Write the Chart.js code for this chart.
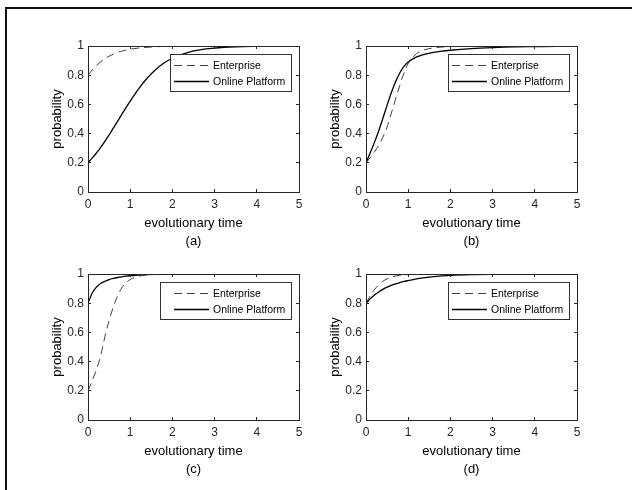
<html>

<head>
  <title>evolutionary time - probability</title>
  <style>
    html, body { margin: 0; padding: 0; background: #fff; overflow: hidden; }
    #frame {
      position: absolute; left: 5px; top: 7px; width: 640px; height: 500px;
      border-top: 2px solid #111; border-left: 2px solid #111;
    }
    canvas { position: absolute; }
  </style>
</head>

<body>
<div id="frame"></div>
<canvas id="chartA" width="310" height="250" style="left:0px;top:0px;"></canvas>
<canvas id="chartB" width="310" height="250" style="left:278px;top:0px;"></canvas>
<canvas id="chartC" width="310" height="250" style="left:0px;top:228px;"></canvas>
<canvas id="chartD" width="310" height="250" style="left:278px;top:228px;"></canvas>
<script src="https://cdn.jsdelivr.net/npm/chart.js"></script>
<script>
  // sample times shared by every panel
  const times = [0, 0.1, 0.2, 0.3, 0.4, 0.5, 0.6, 0.7, 0.8, 0.9, 1.0, 1.2, 1.4, 1.6, 1.8, 2.0, 2.5, 3.0, 3.5, 4.0, 4.5, 5.0];

  const enterpriseA = [0.800, 0.836, 0.866, 0.892, 0.913, 0.930, 0.944, 0.955, 0.965, 0.972, 0.978, 0.986, 0.991, 0.995, 0.997, 0.998, 0.999, 1.000, 1.000, 1.000, 1.000, 1.000];
  const platformA   = [0.200, 0.232, 0.267, 0.306, 0.347, 0.391, 0.437, 0.484, 0.531, 0.578, 0.623, 0.707, 0.779, 0.837, 0.883, 0.916, 0.966, 0.986, 0.995, 0.998, 0.999, 1.000];

  const enterpriseB = [0.200, 0.235, 0.275, 0.320, 0.375, 0.445, 0.540, 0.635, 0.730, 0.815, 0.880, 0.948, 0.975, 0.987, 0.993, 0.996, 0.999, 1.000, 1.000, 1.000, 1.000, 1.000];
  const platformB   = [0.200, 0.268, 0.340, 0.418, 0.505, 0.595, 0.680, 0.755, 0.815, 0.860, 0.890, 0.925, 0.945, 0.957, 0.965, 0.971, 0.982, 0.989, 0.994, 0.996, 0.998, 0.999];

  const enterpriseC = [0.200, 0.270, 0.345, 0.440, 0.570, 0.680, 0.775, 0.850, 0.905, 0.940, 0.962, 0.985, 0.994, 0.998, 0.999, 1.000, 1.000, 1.000, 1.000, 1.000, 1.000, 1.000];
  const platformC   = [0.800, 0.870, 0.910, 0.935, 0.950, 0.962, 0.970, 0.976, 0.981, 0.985, 0.988, 0.993, 0.996, 0.998, 0.999, 0.999, 1.000, 1.000, 1.000, 1.000, 1.000, 1.000];

  const enterpriseD = [0.800, 0.850, 0.893, 0.925, 0.950, 0.967, 0.978, 0.986, 0.991, 0.994, 0.996, 0.998, 0.999, 1.000, 1.000, 1.000, 1.000, 1.000, 1.000, 1.000, 1.000, 1.000];
  const platformD   = [0.800, 0.830, 0.856, 0.877, 0.895, 0.910, 0.922, 0.932, 0.941, 0.949, 0.955, 0.966, 0.975, 0.982, 0.987, 0.991, 0.996, 0.998, 0.999, 1.000, 1.000, 1.000];

  const seriesNames = ['Enterprise', 'Online Platform'];
  const xTicks = [0, 1, 2, 3, 4, 5];
  const yTicks = [0, 0.2, 0.4, 0.6, 0.8, 1];

  const FONT = "'Liberation Sans', Arial, sans-serif";
  const AXIS_COLOR = '#262626';

  const crisp = v => Math.round(v - 0.5) + 0.5;

  // box on all four sides, ticks pointing inward, legend box in the upper right
  const matlabAxes = {
    id: 'matlabAxes',
    afterDatasetsDraw(chart, args, opts) {
      const { ctx, chartArea: { left, top, right, bottom }, scales: { x, y } } = chart;
      const tick = 3;
      ctx.save();
      ctx.strokeStyle = AXIS_COLOR;
      ctx.lineWidth = 1;
      ctx.setLineDash([]);
      ctx.beginPath();
      ctx.moveTo(crisp(left), crisp(top));
      ctx.lineTo(crisp(right), crisp(top));
      ctx.lineTo(crisp(right), crisp(bottom));
      x.ticks.forEach(t => {
        const px = crisp(x.getPixelForValue(t.value));
        ctx.moveTo(px, bottom); ctx.lineTo(px, bottom - tick);
        ctx.moveTo(px, top); ctx.lineTo(px, top + tick);
      });
      y.ticks.forEach(t => {
        const py = crisp(y.getPixelForValue(t.value));
        ctx.moveTo(left, py); ctx.lineTo(left + tick, py);
        ctx.moveTo(right, py); ctx.lineTo(right - tick, py);
      });
      ctx.stroke();

      // legend
      const bx1 = right - 8, bx0 = bx1 - opts.boxWidth;
      const by0 = top + 8, by1 = by0 + 37;
      ctx.fillStyle = '#fff';
      ctx.fillRect(bx0, by0, bx1 - bx0, by1 - by0);
      ctx.strokeStyle = '#333';
      ctx.strokeRect(crisp(bx0), crisp(by0), Math.round(bx1 - bx0), Math.round(by1 - by0));
      ctx.font = '10.5px ' + FONT;
      ctx.textBaseline = 'middle';
      ctx.textAlign = 'left';
      chart.data.datasets.forEach((ds, i) => {
        const ry = by0 + 11 + i * 16;
        ctx.strokeStyle = ds.borderColor;
        ctx.lineWidth = ds.borderWidth;
        ctx.setLineDash(ds.borderDash || []);
        ctx.beginPath();
        ctx.moveTo(bx1 - 117, ry + 0.5);
        ctx.lineTo(bx1 - 82, ry + 0.5);
        ctx.stroke();
        ctx.fillStyle = '#000';
        ctx.fillText(ds.label, bx1 - 78, ry + 1);
      });
      ctx.restore();
    }
  };

  function makePanel(canvasId, enterprise, platform, caption, legendWidth) {
    return new Chart(document.getElementById(canvasId), {
      type: 'line',
      data: {
        datasets: [{
          label: seriesNames[0],
          data: times.map((t, i) => ({ x: t, y: enterprise[i] })),
          borderColor: '#2a2a2a',
          borderWidth: 0.9,
          borderDash: [8, 5],
          pointRadius: 0,
          cubicInterpolationMode: 'monotone',
          fill: false
        }, {
          label: seriesNames[1],
          data: times.map((t, i) => ({ x: t, y: platform[i] })),
          borderColor: '#000',
          borderWidth: 1.3,
          pointRadius: 0,
          cubicInterpolationMode: 'monotone',
          fill: false
        }]
      },
      options: {
        responsive: false,
        animation: false,
        layout: { padding: { top: 46, right: 11, left: 0, bottom: 0 } },
        plugins: {
          legend: { display: false },
          tooltip: { enabled: false },
          matlabAxes: { boxWidth: legendWidth }
        },
        scales: {
          x: {
            type: 'linear',
            min: 0,
            max: 5,
            afterFit: s => { s.height = 58; },
            afterBuildTicks: s => { s.ticks = xTicks.map(v => ({ value: v })); },
            grid: { display: false, drawTicks: false },
            border: { display: true, color: AXIS_COLOR, width: 1 },
            ticks: {
              padding: 5,
              color: AXIS_COLOR,
              font: { family: FONT, size: 12 },
              maxRotation: 0,
              callback: v => String(v)
            },
            title: {
              display: true,
              text: ['evolutionary time', caption],
              color: '#000',
              font: { family: FONT, size: 13, lineHeight: 18 / 13 },
              padding: { top: 0, bottom: 0 }
            }
          },
          y: {
            min: 0,
            max: 1,
            afterFit: s => { s.width = 88; },
            afterBuildTicks: s => { s.ticks = yTicks.map(v => ({ value: v })); },
            grid: { display: false, drawTicks: false },
            border: { display: true, color: AXIS_COLOR, width: 1 },
            ticks: {
              padding: 4,
              color: AXIS_COLOR,
              font: { family: FONT, size: 12 },
              callback: v => String(Number(v.toFixed(1)))
            },
            title: {
              display: true,
              text: 'probability',
              color: '#000',
              font: { family: FONT, size: 13 },
              padding: { top: 50, bottom: 0 }
            }
          }
        }
      },
      plugins: [matlabAxes]
    });
  }

  makePanel('chartA', enterpriseA, platformA, '(a)', 121);
  makePanel('chartB', enterpriseB, platformB, '(b)', 121);
  makePanel('chartC', enterpriseC, platformC, '(c)', 131);
  makePanel('chartD', enterpriseD, platformD, '(d)', 121);
</script>
</body>

</html>
